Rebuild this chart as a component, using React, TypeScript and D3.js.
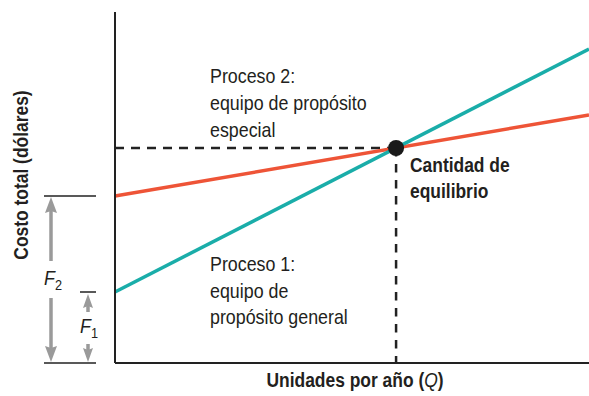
import React from "react";
import * as d3 from "d3";

// break-even chart: two processes, total cost vs units
const quantities = [0, 100];
const process1Cost = [71, 314]; // proceso 1, equipo de propósito general
const process2Cost = [167, 248]; // proceso 2, equipo de propósito especial
const equilibriumQ = 59.3;
const equilibriumCost = 215;
const fixedCostNames = ["1", "2"];
const fixedCostValues = [71, 167];

const W = 589;
const H = 396;
const FONT = "'Liberation Sans', Arial, sans-serif";
const SX = 0.85; // squeeze glyphs to look like a condensed face
const TEAL = "#1aada9";
const RED = "#ee5437";
const GRAY = "#9a9a9a";

function Arrow({ x, y1, y2, head, width }: { x: number; y1: number; y2: number; head: number; width: number }) {
  // arrow from y1 pointing to y2
  const dir = y2 > y1 ? 1 : -1;
  const base = y2 - dir * head;
  return (
    <g fill={GRAY} stroke="none">
      <line x1={x} x2={x} y1={y1} y2={base} stroke={GRAY} strokeWidth={3.5} />
      <path d={`M${x},${y2} L${x - width / 2},${base - dir * 2} L${x},${base} L${x + width / 2},${base - dir * 2} Z`} />
    </g>
  );
}

// text block drawn at (x, y) with a horizontal squeeze
function Cond({ x, y, rotate = 0, children }: { x: number; y: number; rotate?: number; children: React.ReactNode }) {
  return <g transform={`translate(${x},${y}) rotate(${rotate}) scale(${SX},1)`}>{children}</g>;
}

export default function App() {
  const x = d3.scaleLinear().domain([0, 100]).range([115, 589]);
  const y = d3.scaleLinear().domain([0, 351]).range([363, 12]);

  const line = d3
    .line<number>()
    .x((d, i) => x(quantities[i]))
    .y((d) => y(d));

  const eqX = x(equilibriumQ);
  const eqY = y(equilibriumCost);
  const yF1 = y(fixedCostValues[0]);
  const yF2 = y(fixedCostValues[1]);
  const y0 = y(0);

  const text = { fontFamily: FONT, fontSize: 21, fill: "#231f20" };
  const bold = { ...text, fontSize: 20.5, fontWeight: 700 };

  return (
    <svg width={W} height={H} style={{ position: "absolute", left: 0, top: 0 }}>
      <rect width={W} height={H} fill="#fff" />

      {/* dashed guides */}
      <line x1={x(0)} x2={eqX} y1={eqY} y2={eqY} stroke="#222" strokeWidth={2.5} strokeDasharray="9,7" />
      <line x1={eqX} x2={eqX} y1={eqY} y2={y0} stroke="#222" strokeWidth={2.5} strokeDasharray="8.5,7.5" />

      <path d={line(process2Cost) || ""} fill="none" stroke={RED} strokeWidth={3.5} />
      <path d={line(process1Cost) || ""} fill="none" stroke={TEAL} strokeWidth={3.5} />
      <circle cx={eqX} cy={eqY} r={8} fill="#1a1a1a" />

      {/* axes */}
      <line x1={x(0)} x2={x(0)} y1={y.range()[1]} y2={y0} stroke="#222" strokeWidth={2} />
      <line x1={x(0)} x2={x(100)} y1={y0} y2={y0} stroke="#222" strokeWidth={2} />

      {/* fixed cost markers */}
      <line x1={44} x2={96} y1={yF2} y2={yF2} stroke="#222" strokeWidth={1.5} />
      <line x1={80} x2={96} y1={yF1} y2={yF1} stroke="#222" strokeWidth={1.5} />
      <line x1={44} x2={96} y1={y0} y2={y0} stroke="#222" strokeWidth={1.5} />

      <Arrow x={51} y1={261} y2={yF2 + 1} head={14} width={12} />
      <Arrow x={51} y1={298} y2={y0 - 1} head={14} width={12} />
      <Arrow x={88} y1={312} y2={yF1 + 2} head={12} width={10} />
      <Arrow x={88} y1={344} y2={y0 - 1} head={12} width={10} />

      <Cond x={44} y={285}>
        <text style={{ ...text, fontSize: 21, fontStyle: "italic" }}>
          F<tspan fontSize={15} fontStyle="normal" dy={5}>{fixedCostNames[1]}</tspan>
        </text>
      </Cond>
      <Cond x={80} y={333}>
        <text style={{ ...text, fontSize: 21, fontStyle: "italic" }}>
          F<tspan fontSize={15} fontStyle="normal" dy={5}>{fixedCostNames[0]}</tspan>
        </text>
      </Cond>

      {/* annotations */}
      <Cond x={210} y={83}>
        <text style={text}>
          <tspan x={0} y={0}>Proceso 2:</tspan>
          <tspan x={0} y={27}>equipo de propósito</tspan>
          <tspan x={0} y={54}>especial</tspan>
        </text>
      </Cond>
      <Cond x={210} y={271}>
        <text style={text}>
          <tspan x={0} y={0}>Proceso 1:</tspan>
          <tspan x={0} y={27}>equipo de</tspan>
          <tspan x={0} y={53}>propósito general</tspan>
        </text>
      </Cond>
      <Cond x={410} y={172}>
        <text style={bold}>
          <tspan x={0} y={0}>Cantidad de</tspan>
          <tspan x={0} y={26}>equilibrio</tspan>
        </text>
      </Cond>

      {/* axis titles */}
      <Cond x={28} y={175} rotate={-90}>
        <text textAnchor="middle" style={bold}>
          Costo total (dólares)
        </text>
      </Cond>
      <Cond x={355} y={387}>
        <text textAnchor="middle" style={bold}>
          Unidades por año (<tspan fontStyle="italic" fontWeight={400}>Q</tspan>)
        </text>
      </Cond>
    </svg>
  );
}
